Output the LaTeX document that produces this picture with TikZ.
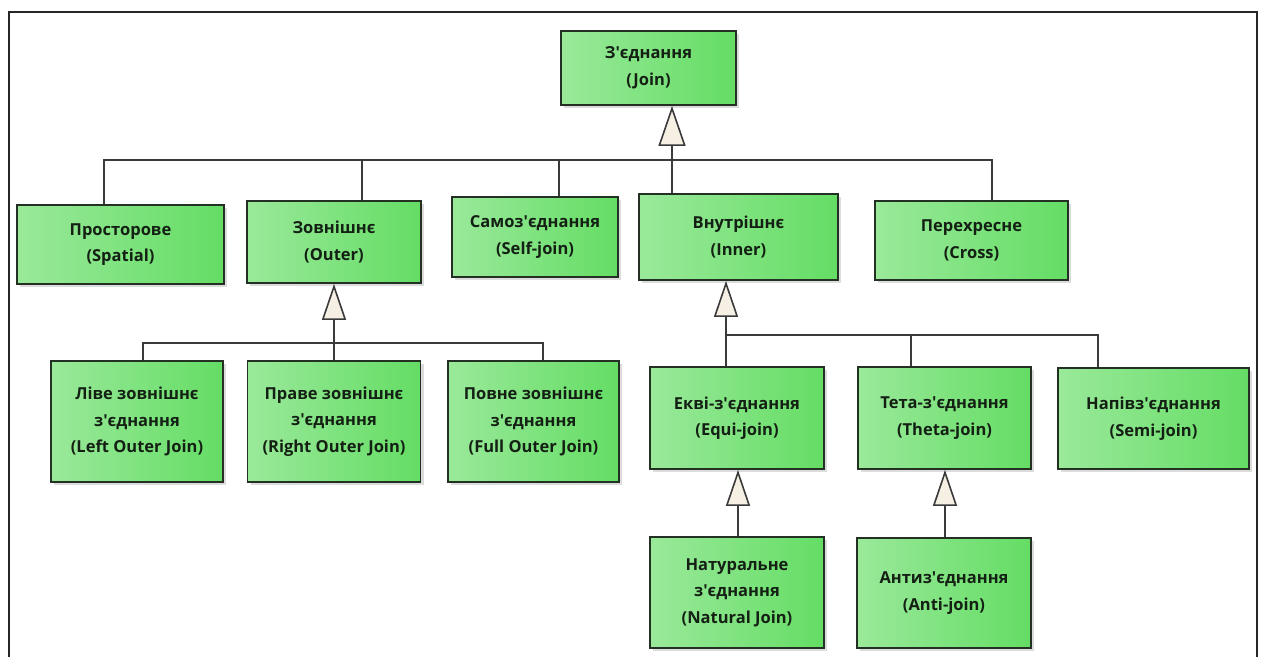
\documentclass[tikz,border=0pt]{standalone}
\usepackage{fontspec}
\setmainfont{Open Sans}
\usetikzlibrary{arrows.meta,shadows}
\definecolor{gleft}{HTML}{9AE99A}
\definecolor{gright}{HTML}{64DD64}
\definecolor{bord}{HTML}{243024}
\definecolor{linec}{HTML}{3A3A3A}
\definecolor{txt}{HTML}{142014}
\definecolor{cream}{HTML}{F6F0E4}
\newcommand{\apo}{\textquotesingle}
\tikzset{
  box/.style={draw=bord, line width=1.8pt, left color=gleft, right color=gright,
    align=center, text=txt, font=\bfseries\fontsize{16.5}{26.5}\selectfont,
    inner sep=2pt,
    drop shadow={shadow xshift=3pt, shadow yshift=-3pt, fill=black!30, opacity=0.45}},
  conn/.style={draw=linec, line width=1.6pt},
  gen/.style={conn, -{Triangle[length=36pt, width=24pt, fill=cream, line width=1.6pt]}},
  genbig/.style={conn, -{Triangle[length=40pt, width=27pt, fill=cream, line width=1.6pt]}},
}
\begin{document}
\begin{tikzpicture}[x=1pt, y=-1pt]
\useasboundingbox[fill=white] (0,0) rectangle (1263,657);
% frame
\draw[draw=black!85, line width=1.6pt] (9,657) -- (9,12) -- (1257,12) -- (1257,657);

% nodes
\node[box, minimum width=175, minimum height=74] (join) at (648.5,68) {З\apo єднання\\(Join)};
\node[box, minimum width=207, minimum height=79] (spatial) at (120.5,244.5) {Просторове\\(Spatial)};
\node[box, minimum width=174, minimum height=82] (outer) at (334,242) {Зовнішнє\\(Outer)};
\node[box, minimum width=166, minimum height=80] (self) at (535,237) {Самоз\apo єднання\\(Self-join)};
\node[box, minimum width=199, minimum height=86] (inner) at (738.5,237) {Внутрішнє\\(Inner)};
\node[box, minimum width=193, minimum height=79] (cross) at (971.5,240.5) {Перехресне\\(Cross)};

\node[box, minimum width=172, minimum height=121] (left) at (137,421.5) {Ліве зовнішнє\\з\apo єднання\\(Left Outer Join)};
\node[box, minimum width=173, minimum height=121] (right) at (334,421.5) {Праве зовнішнє\\з\apo єднання\\(Right Outer Join)};
\node[box, minimum width=171, minimum height=121] (full) at (533.5,421.5) {Повне зовнішнє\\з\apo єднання\\(Full Outer Join)};

\node[box, minimum width=174, minimum height=102] (equi) at (737,418) {Екві-з\apo єднання\\(Equi-join)};
\node[box, minimum width=173, minimum height=102] (theta) at (944.5,418) {Тета-з\apo єднання\\(Theta-join)};
\node[box, minimum width=191, minimum height=101] (semi) at (1153.5,418.5) {Напівз\apo єднання\\(Semi-join)};

\node[box, minimum width=174, minimum height=111] (natural) at (737,592.5) {Натуральне\\з\apo єднання\\(Natural Join)};
\node[box, minimum width=174, minimum height=110] (anti) at (944,593) {Антиз\apo єднання\\(Anti-join)};

% level 1 generalisation
\coordinate (jb) at (672,160);
\draw[genbig] ([xshift=-66.5pt]inner.north) -- ([xshift=23.5pt]join.south);
\draw[conn] ([xshift=-16.5pt]spatial.north) |- (jb);
\draw[conn] ([xshift=28pt]outer.north) |- (jb);
\draw[conn] ([xshift=24pt]self.north) |- (jb);
\draw[conn] ([xshift=20.5pt]cross.north) |- (jb);

% outer group
\coordinate (ob) at (334,343);
\draw[gen] (right.north) -- (outer.south);
\draw[conn] ([xshift=6pt]left.north) |- (ob);
\draw[conn] ([xshift=9.5pt]full.north) |- (ob);

% inner group
\coordinate (ib) at (726,335);
\draw[gen] ([xshift=-11pt]equi.north) -- ([xshift=-12.5pt]inner.south);
\draw[conn] ([xshift=-33.5pt]theta.north) |- (ib);
\draw[conn] ([xshift=-55.5pt]semi.north) |- (ib);

% level 3
\draw[gen] ([xshift=1pt]natural.north) -- ([xshift=1pt]equi.south);
\draw[gen] ([xshift=1pt]anti.north) -- ([xshift=0.5pt]theta.south);
\end{tikzpicture}
\end{document}
